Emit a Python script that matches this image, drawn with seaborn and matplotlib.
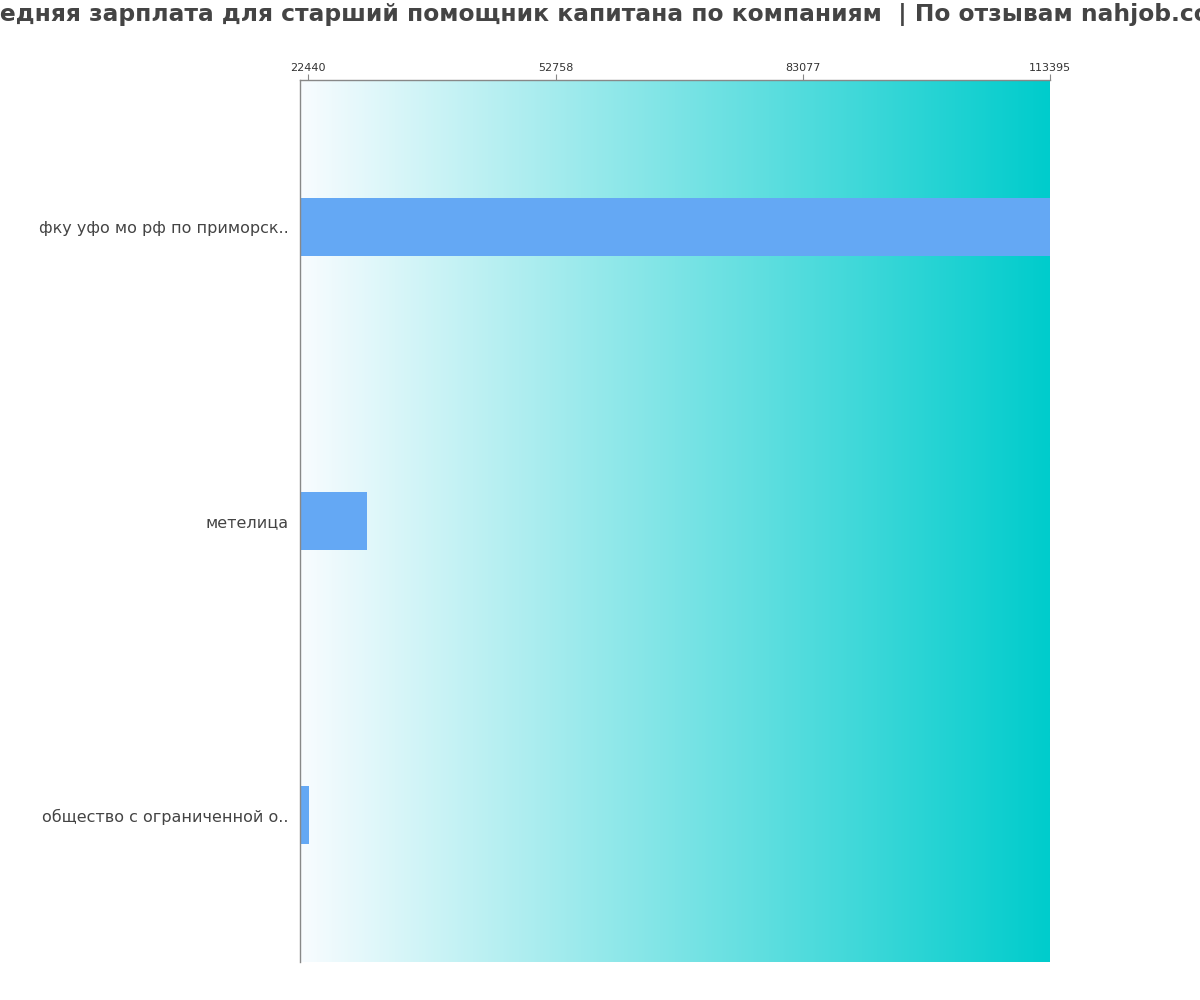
import numpy as np
import pandas as pd
import matplotlib
matplotlib.use("Agg")
import matplotlib.pyplot as plt
from matplotlib.colors import LinearSegmentedColormap
import seaborn as sns

# данные с картинки
companies = ["фку уфо мо рф по приморск..", "метелица", "общество с ограниченной о.."]
salaries = [113395, 29640, 22520]
tick_values = [22440, 52758, 83077, 113395]
tick_labels = ["22440", "52758", "83077", "113395"]
title = "Средняя зарплата для старший помощник капитана по компаниям  | По отзывам nahjob.com"

df = pd.DataFrame({"company": companies, "salary": salaries})

sns.set_style("white")
plt.rcParams["font.family"] = ["DejaVu Sans"]

fig = plt.figure(figsize=(12, 10), dpi=100)
ax = fig.add_axes([0.25, 0.038, 0.625, 0.882])

sns.barplot(data=df, x="salary", y="company", orient="h", color="#64a8f4",
            saturation=1, width=0.2, linewidth=0, ax=ax, zorder=2)

x_left = 21420
x_right = 113395
ax.set_xlim(x_left, x_right)
ax.set_ylim(2.5, -0.5)

# фон с градиентом
cmap = LinearSegmentedColormap.from_list("bg", ["#f8fcff", "#00cccc"])
grad = np.linspace(0, 1, 256).reshape(1, -1)
ax.imshow(grad, cmap=cmap, aspect="auto", extent=[x_left, x_right, 2.5, -0.5], zorder=0)

# ось X сверху
ax.xaxis.tick_top()
ax.set_xticks(tick_values)
ax.set_xticklabels(tick_labels, fontsize=8, color="#333333")
ax.tick_params(axis="x", length=4, color="#888888", pad=1)
ax.tick_params(axis="y", length=0, labelsize=11.5, labelcolor="#444444", pad=8)
ax.set_xlabel("")
ax.set_ylabel("")

for side in ["right", "bottom"]:
    ax.spines[side].set_visible(False)
for side in ["top", "left"]:
    ax.spines[side].set_color("#888888")
    ax.spines[side].set_linewidth(1)

fig.text(0.5, 0.985, title, ha="center", va="center", fontsize=16.8,
         fontweight="bold", color="#444444")

fig.savefig("out.png", dpi=100)
